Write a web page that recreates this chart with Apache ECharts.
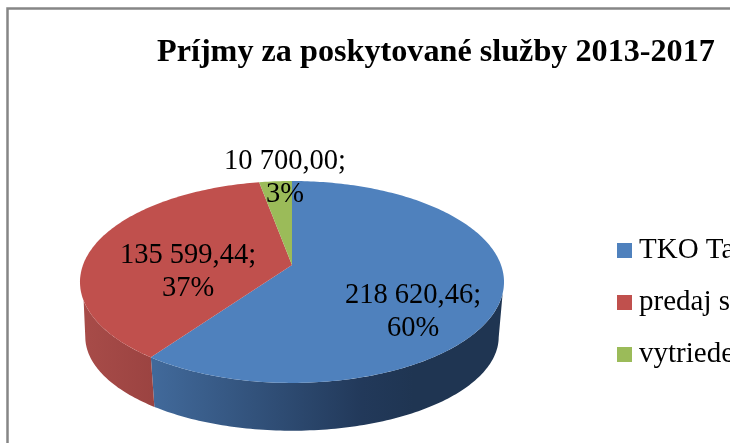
<!DOCTYPE html>
<html>
<head>
<meta charset="utf-8">
<title>Príjmy za poskytované služby 2013-2017</title>
<style>html,body{margin:0;padding:0;background:#fff;overflow:hidden}</style>
</head>
<body>
<div id="main" style="width:730px;height:443px"></div>
<script src="https://cdn.jsdelivr.net/npm/echarts@6/dist/echarts.min.js"></script>
<script>
// only the part of the legend names that can be seen in the picture
var categories = ['TKO Ta', 'predaj s', 'vytriede'];
var values = [218620.46, 135599.44, 10700.00];
var colors = ['#4f81bd', '#c0504d', '#9bbb59'];
var titleText = 'Príjmy za poskytované služby 2013-2017';

var serif = '"Liberation Serif", "Times New Roman", serif';
// label centres, the pie has no usable auto placement here
var labelAt = [[413, 312], [188, 272], [285, 178]];

var total = values.reduce(function (a, b) { return a + b; }, 0);
var cx = 292, apexY = 265, radius = 209, tilt = -0.168, squash = 53.6, shrink = 0.975;

// circle -> perspective ellipse, angle in degrees clockwise from the top
function rim(deg, bottom) {
    var t = deg * Math.PI / 180;
    var u = Math.sin(t), v = -Math.cos(t);
    var w = 1 + tilt * v;
    var x = radius * u / w, y = (apexY + squash * v) / w;
    if (bottom) return [cx + x * shrink, y * 0.93 + 74.6];
    return [cx + x, y];
}
function arc(from, to, bottom) {
    var pts = [], n = Math.max(2, Math.ceil(Math.abs(to - from)));
    for (var i = 0; i <= n; i++) pts.push(rim(from + (to - from) * i / n, bottom));
    return pts;
}
function fmt(val) {
    var p = val.toFixed(2).split('.');
    return p[0].replace(/\B(?=(\d{3})+$)/g, ' ') + ',' + p[1];
}
function sideGradient(idx) {
    if (idx === 0) {
        return new echarts.graphic.LinearGradient(155, 0, 500, 0, [
            {offset: 0, color: '#41699a'},
            {offset: 0.6, color: '#22395a'},
            {offset: 0.75, color: '#1f3552'},
            {offset: 1, color: '#1f3552'}
        ], true);
    }
    return new echarts.graphic.LinearGradient(80, 0, 155, 0, [
        {offset: 0, color: '#a84c49'},
        {offset: 1, color: '#9b4341'}
    ], true);
}

var seriesList = categories.map(function (name, idx) {
    var before = 0;
    for (var i = 0; i < idx; i++) before += values[i];
    var a0 = before / total * 360, a1 = (before + values[idx]) / total * 360;
    return {
        type: 'custom',
        name: name,
        coordinateSystem: 'none',
        silent: true,
        itemStyle: {color: colors[idx]},
        data: [values[idx]],
        renderItem: function (params, api) {
            var val = api.value(0);
            var kids = [];
            // side wall, ends joined by the straight silhouette edges
            var top0 = Math.max(a0, 106), top1 = Math.min(a1, 250);
            var bot0 = Math.max(a0, 100), bot1 = Math.min(a1, 260);
            if (top1 > top0) {
                kids.push({
                    type: 'polygon',
                    shape: {points: arc(top0, top1, false).concat(arc(bot1, bot0, true))},
                    style: {fill: sideGradient(idx)}
                });
            }
            kids.push({
                type: 'polygon',
                shape: {points: [[cx, apexY]].concat(arc(a0, a1, false))},
                style: {fill: colors[idx]}
            });
            kids.push({
                type: 'text',
                z2: 10,
                x: labelAt[idx][0],
                y: labelAt[idx][1],
                style: {
                    text: fmt(val) + ';\n' + Math.round(val / total * 100) + '%',
                    font: '28.5px ' + serif,
                    lineHeight: 33,
                    fill: '#000',
                    align: 'center',
                    verticalAlign: 'middle'
                }
            });
            return {type: 'group', children: kids};
        }
    };
});

var myChart = echarts.init(document.getElementById('main'));
myChart.setOption({
    animation: false,
    backgroundColor: '#fff',
    title: {
        text: titleText,
        left: 157,
        top: 37,
        padding: 0,
        textStyle: {fontFamily: serif, fontWeight: 'bold', fontSize: 32.2, color: '#000'}
    },
    legend: {
        orient: 'vertical',
        left: 617,
        top: 231,
        padding: 0,
        icon: 'rect',
        itemWidth: 15,
        itemHeight: 15,
        itemGap: 13,
        selectedMode: false,
        textStyle: {fontFamily: serif, fontSize: 29, lineHeight: 33, padding: [6, 0, 0, 2], color: '#000'},
        data: categories
    },
    graphic: [{
        // chart frame, runs off the right and bottom of the picture
        type: 'rect',
        silent: true,
        z: -1,
        shape: {x: 7.5, y: 8.5, width: 800, height: 600},
        style: {fill: 'none', stroke: '#868686', lineWidth: 2.5}
    }],
    series: seriesList
});
</script>
</body>
</html>
